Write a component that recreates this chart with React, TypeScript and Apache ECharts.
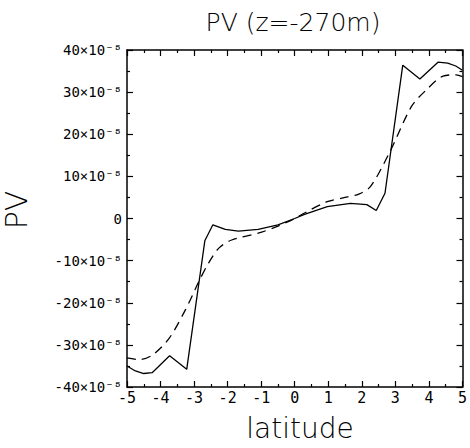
import React, { useEffect, useRef } from "react";
import * as echarts from "echarts";

const solidX = [-5, -4.75, -4.5, -4.25, -3.73, -3.22, -2.68, -2.44, -2.07, -1.68, -1.09, -0.5, 0, 0.29, 0.97, 1.66, 2.15, 2.43, 2.69, 3.22, 3.73, 4.27, 4.56, 4.8, 5];
const solidY = [-35.0, -36.2, -36.8, -36.6, -32.6, -35.8, -5.3, -1.5, -2.6, -3.0, -2.6, -1.5, 0, 1.0, 2.8, 3.6, 3.3, 1.9, 6.0, 36.4, 33.1, 37.1, 36.9, 36.2, 35.2];
const dashX = [-5, -4.63, -4.24, -3.75, -3.26, -2.86, -2.57, -2.27, -1.88, -1.09, -0.5, 0, 0.29, 0.97, 1.5, 1.91, 2.26, 2.84, 3.48, 3.92, 4.42, 4.81, 5];
const dashY = [-33.1, -33.5, -32.4, -28.5, -21.7, -15.0, -10.6, -7.1, -5.1, -3.5, -1.8, 0, 1.3, 4.0, 5.0, 5.8, 7.6, 15.9, 26.6, 30.5, 33.8, 34.1, 33.7];

const titleText = "PV (z=-270m)";
const xName = "latitude";
const yName = "PV";

const FONT = "DejaVu Sans Mono";

export default function App() {
  const ref = useRef<HTMLDivElement>(null);
  useEffect(() => {
    if (!ref.current) return;
    const chart = echarts.init(ref.current, null, { renderer: "svg" });
    const axisLine = { show: true, onZero: false, lineStyle: { color: "#000", width: 1.5 } };
    const tick = { show: true, inside: true, length: 6, lineStyle: { color: "#000", width: 1.2 } };
    const minor = { show: true, splitNumber: 2, length: 3, lineStyle: { color: "#000", width: 1.2 } };
    const option: any = {
      animation: false,
      backgroundColor: "#fff",
      grid: { left: 127, right: 4, top: 50, bottom: 61 },
      xAxis: [
        {
          type: "value", min: -5, max: 5, interval: 1, position: "bottom",
          axisLine, axisTick: tick, minorTick: minor, splitLine: { show: false },
          axisLabel: { color: "#000", fontFamily: FONT, fontSize: 15, margin: 3 },
        },
        {
          type: "value", min: -5, max: 5, interval: 1, position: "top",
          axisLine, axisTick: tick, minorTick: minor, splitLine: { show: false },
          axisLabel: { show: false },
        },
      ],
      yAxis: [
        {
          type: "value", min: -40, max: 40, interval: 10, position: "left",
          axisLine, axisTick: tick, minorTick: minor, splitLine: { show: false },
          axisLabel: {
            color: "#000", fontFamily: FONT, fontSize: 14, margin: 5,
            formatter: (v: number) => (v === 0 ? "0" : `${v}×10⁻⁸`),
          },
        },
        {
          type: "value", min: -40, max: 40, interval: 10, position: "right",
          axisLine, axisTick: tick, minorTick: minor, splitLine: { show: false },
          axisLabel: { show: false },
        },
      ],
      graphic: [
        {
          type: "text", x: 293, y: 22,
          style: { text: titleText, align: "center", verticalAlign: "middle", fontFamily: "DejaVu Sans", fontWeight: 200, fontSize: 25, fill: "#000" },
        },
        {
          type: "text", x: 300, y: 428,
          style: { text: xName, align: "center", verticalAlign: "middle", fontFamily: "DejaVu Sans", fontWeight: 200, fontSize: 28, fill: "#000" },
        },
        {
          type: "text", x: 16, y: 210, rotation: Math.PI / 2,
          style: { text: yName, align: "center", verticalAlign: "middle", fontFamily: "DejaVu Sans", fontWeight: 200, fontSize: 30, fill: "#000" },
        },
      ],
      series: [
        {
          type: "line", xAxisIndex: 0, yAxisIndex: 0, showSymbol: false, symbol: "none",
          data: solidX.map((x, i) => [x, solidY[i]]),
          lineStyle: { color: "#000", width: 1.3, type: "solid" },
        },
        {
          type: "line", xAxisIndex: 0, yAxisIndex: 0, showSymbol: false, symbol: "none", smooth: 0.3,
          data: dashX.map((x, i) => [x, dashY[i]]),
          lineStyle: { color: "#000", width: 1.3, type: [9, 6] },
        },
      ],
    };
    chart.setOption(option);
    return () => chart.dispose();
  }, []);
  return <div ref={ref} style={{ width: 470, height: 448, position: "absolute", left: 0, top: 0 }} />;
}
